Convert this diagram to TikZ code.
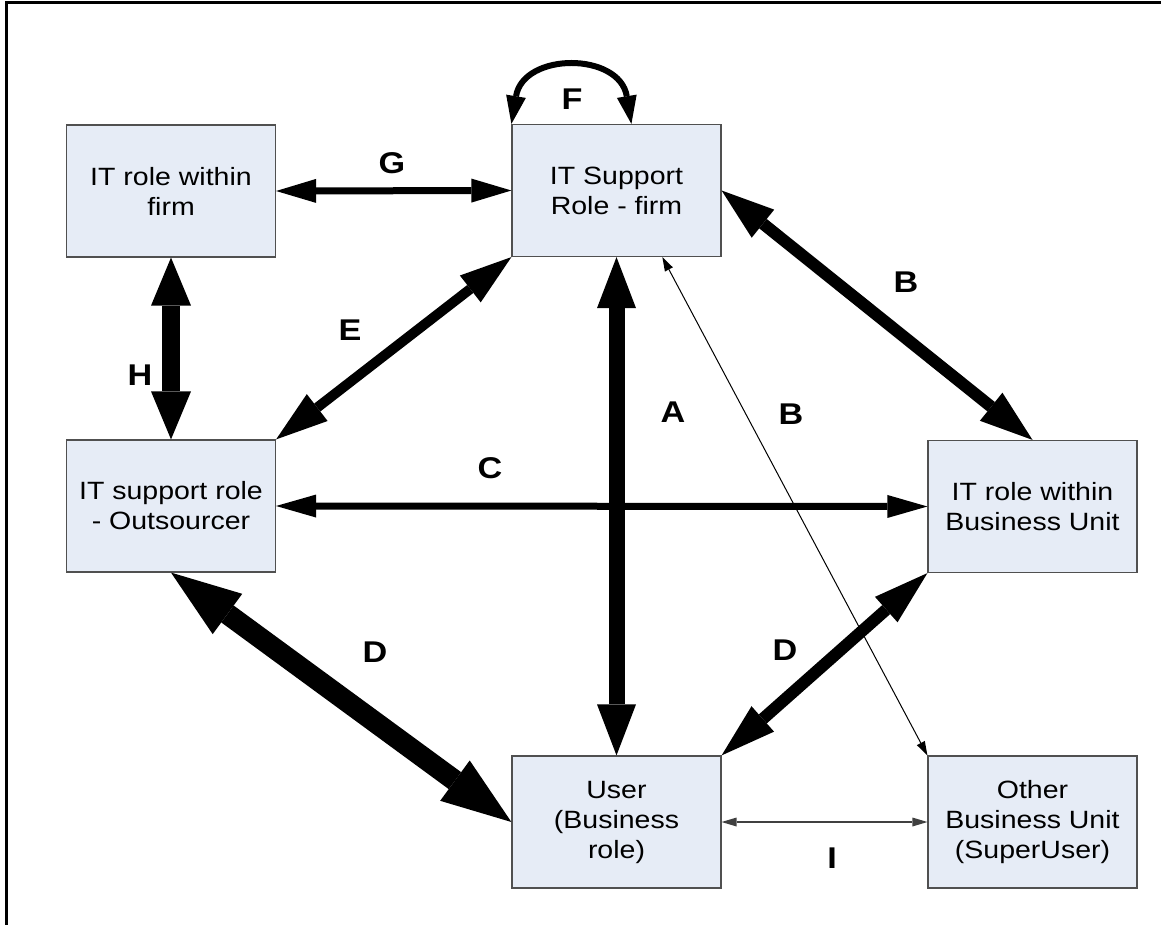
\documentclass[tikz,border=0pt]{standalone}
\usepackage{fontspec}
\setmainfont{Liberation Sans}[FakeStretch=1.14]
\usetikzlibrary{arrows.meta,calc}
\definecolor{boxfill}{RGB}{230,236,246}
\definecolor{boxline}{RGB}{80,80,80}

\begin{document}
\begin{tikzpicture}[x=1pt,y=-1pt,
  role/.style={draw=boxline, line width=1.2pt, fill=boxfill,
    minimum width=209pt, minimum height=132pt, inner sep=0pt,
    align=center, font=\fontsize{25}{30}\selectfont},
  tag/.style={font=\fontsize{30}{36}\selectfont\bfseries, inner sep=0pt},
  link/.style n args={3}{line width=#1pt,
    arrows={Triangle[length=#2pt 0,width=#3pt 0,line width=0pt]-Triangle[length=#2pt 0,width=#3pt 0,line width=0pt]}},
]
\useasboundingbox (0,0) rectangle (1161,925);

% outer frame (top and left edges)
\draw[line width=3pt] (6,925) -- (6,3) -- (1161,3);

% roles
\node[role] (itfirm)  at (171,191)     {IT role within\\firm};
\node[role] (supfirm) at (616.5,190.5) {IT Support\\Role - firm};
\node[role] (outs)    at (171,506)     {IT support role\\- Outsourcer};
\node[role] (itbu)    at (1032.5,506.5){IT role within\\Business Unit};
\node[role] (user)    at (616.5,822)   {User\\(Business\\role)};
\node[role] (other)   at (1032.5,822)  {Other\\Business Unit\\(SuperUser)};

% helper points
\coordinate (fR) at ($(supfirm.north west)+(120,0)$);
\coordinate (bt) at ($(supfirm.south west)!0.718!(supfirm.south east)$);

% relations
\draw[link={7}{40}{24}]  (itfirm.east) -- (supfirm.west);
\draw[link={6}{28}{20}]  (supfirm.north west) .. controls ($(supfirm.north west)+(12,-72)$) and ($(fR)+(-12,-72)$) .. (fR);
\draw[link={18}{48}{40}] (itfirm.south) -- (outs.north);
\draw[link={16}{51}{39}] (supfirm.south) -- (user.north);
\draw[link={10}{52}{34}] (supfirm.south west) -- (outs.north east);
\draw[link={12}{53}{36}] (supfirm.east) -- (itbu.north);
\draw[link={7}{40}{23}]  (outs.east) -- (itbu.west);
\draw[link={21}{70}{50}] (outs.south) -- (user.west);
\draw[link={12}{55}{34}] (user.north east) -- (itbu.south west);
\draw[link={1}{14}{9}]   (bt) -- (other.north west);
\draw[link={1.5}{15}{9}, color=black!75] (user.east) -- (other.west);

% labels
\node[tag] (lG)  at (392,163) {G};
\node[tag] (lF)  at (572,99)  {F};
\node[tag] (lB1) at (906,282) {B};
\node[tag] (lE)  at (350,330) {E};
\node[tag] (lH)  at (140,375) {H};
\node[tag] (lA)  at (673,412) {A};
\node[tag] (lB2) at (791,414) {B};
\node[tag] (lC)  at (490,468) {C};
\node[tag] (lD1) at (375,652) {D};
\node[tag] (lD2) at (785,650) {D};
\node[tag] (lI)  at (832,858) {I};
\end{tikzpicture}
\end{document}
